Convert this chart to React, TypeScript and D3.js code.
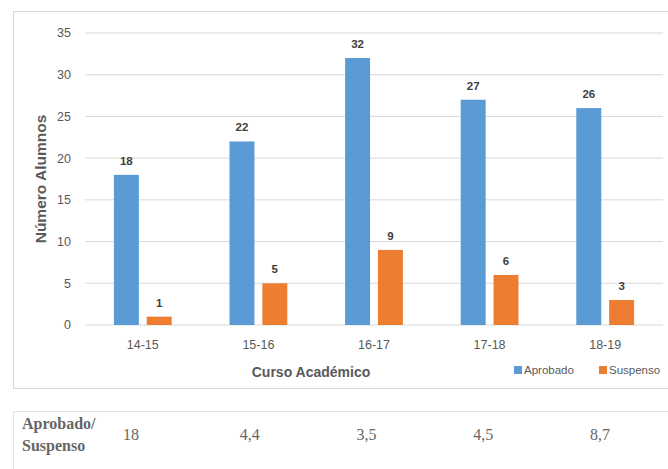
import React from "react";
import * as d3 from "d3";

const cursos = ["14-15", "15-16", "16-17", "17-18", "18-19"];
const aprobados = [18, 22, 32, 27, 26];
const suspensos = [1, 5, 9, 6, 3];
const series = ["Aprobado", "Suspenso"];
const ratios = ["18", "4,4", "3,5", "4,5", "8,7"];
const yTicks = [0, 5, 10, 15, 20, 25, 30, 35];

const COLORS: Record<string, string> = { Aprobado: "#5B9BD5", Suspenso: "#ED7D31" };
const TEXT = "#595959";
const FONT = "'Liberation Sans', Arial, sans-serif";
const SERIF = "'Liberation Serif', 'Times New Roman', serif";

export default function App() {
  const W = 668;
  const H = 469;

  const x = d3.scaleBand<string>().domain(cursos).range([85, 663]).paddingInner(0.5).paddingOuter(0.25);
  const xi = d3.scaleBand<string>().domain(series).range([0, x.bandwidth()]).paddingInner(0.24);
  const y = d3.scaleLinear().domain([0, 35]).range([325, 33]);
  const tableX = d3.scalePoint<string>().domain(cursos).range([123, 590]);

  const rows = cursos.map((c, i) => ({ c, Aprobado: aprobados[i], Suspenso: suspensos[i] }));

  return (
    <svg width={W} height={H} style={{ position: "absolute", left: 0, top: 0, background: "#fff" }}>
      {/* chart frame */}
      <rect x={13.5} y={11.5} width={700} height={377} fill="#fff" stroke="#D9D9D9" />

      {/* gridlines and y tick labels */}
      {yTicks.map((t) => (
        <g key={t}>
          <line x1={85} x2={663} y1={y(t)} y2={y(t)} stroke="#D9D9D9" strokeWidth={1} />
          <text x={71} y={y(t)} dy="0.35em" textAnchor="end" fontFamily={FONT} fontSize={12.5} fill={TEXT}>
            {t}
          </text>
        </g>
      ))}

      {/* bars with value labels */}
      {rows.map((r) => (
        <g key={r.c} transform={`translate(${x(r.c)},0)`}>
          {series.map((s) => {
            const v = (r as any)[s] as number;
            const bx = xi(s)!;
            return (
              <g key={s}>
                <rect x={bx} y={y(v)} width={xi.bandwidth()} height={y(0) - y(v)} fill={COLORS[s]} />
                <text
                  x={bx + xi.bandwidth() / 2}
                  y={y(v) - 10}
                  textAnchor="middle"
                  fontFamily={FONT}
                  fontSize={11.5}
                  fontWeight="bold"
                  fill="#404040"
                >
                  {v}
                </text>
              </g>
            );
          })}
          <text x={x.bandwidth() / 2} y={345} dy="0.35em" textAnchor="middle" fontFamily={FONT} fontSize={12.5} fill={TEXT}>
            {r.c}
          </text>
        </g>
      ))}

      {/* axis titles */}
      <text x={311} y={372} dy="0.35em" textAnchor="middle" fontFamily={FONT} fontSize={14} fontWeight="bold" fill={TEXT}>
        Curso Académico
      </text>
      <text
        transform={`translate(41,${(y(0) + y(35)) / 2}) rotate(-90)`}
        dy="0.35em"
        textAnchor="middle"
        fontFamily={FONT}
        fontSize={15.5}
        fontWeight="bold"
        fill={TEXT}
      >
        Número Alumnos
      </text>

      {/* legend */}
      {series.map((s, i) => {
        const lx = i === 0 ? 514 : 599;
        return (
          <g key={s}>
            <rect x={lx} y={366} width={8} height={8} fill={COLORS[s]} />
            <text x={lx + 10} y={370} dy="0.35em" fontFamily={FONT} fontSize={11.5} fill={TEXT}>
              {s}
            </text>
          </g>
        );
      })}

      {/* ratio table */}
      <line x1={13} x2={668} y1={411.5} y2={411.5} stroke="#E3E3E3" />
      <line x1={13.5} x2={13.5} y1={411} y2={469} stroke="#E3E3E3" />
      <text x={22} y={429} fontFamily={SERIF} fontSize={16} fontWeight="bold" fill="#666">
        Aprobado/
      </text>
      <text x={22} y={451} fontFamily={SERIF} fontSize={16} fontWeight="bold" fill="#666">
        Suspenso
      </text>
      {cursos.map((c, i) => (
        <text key={c} x={tableX(c)} y={440} fontFamily={SERIF} fontSize={16} fill="#666">
          {ratios[i]}
        </text>
      ))}
    </svg>
  );
}
